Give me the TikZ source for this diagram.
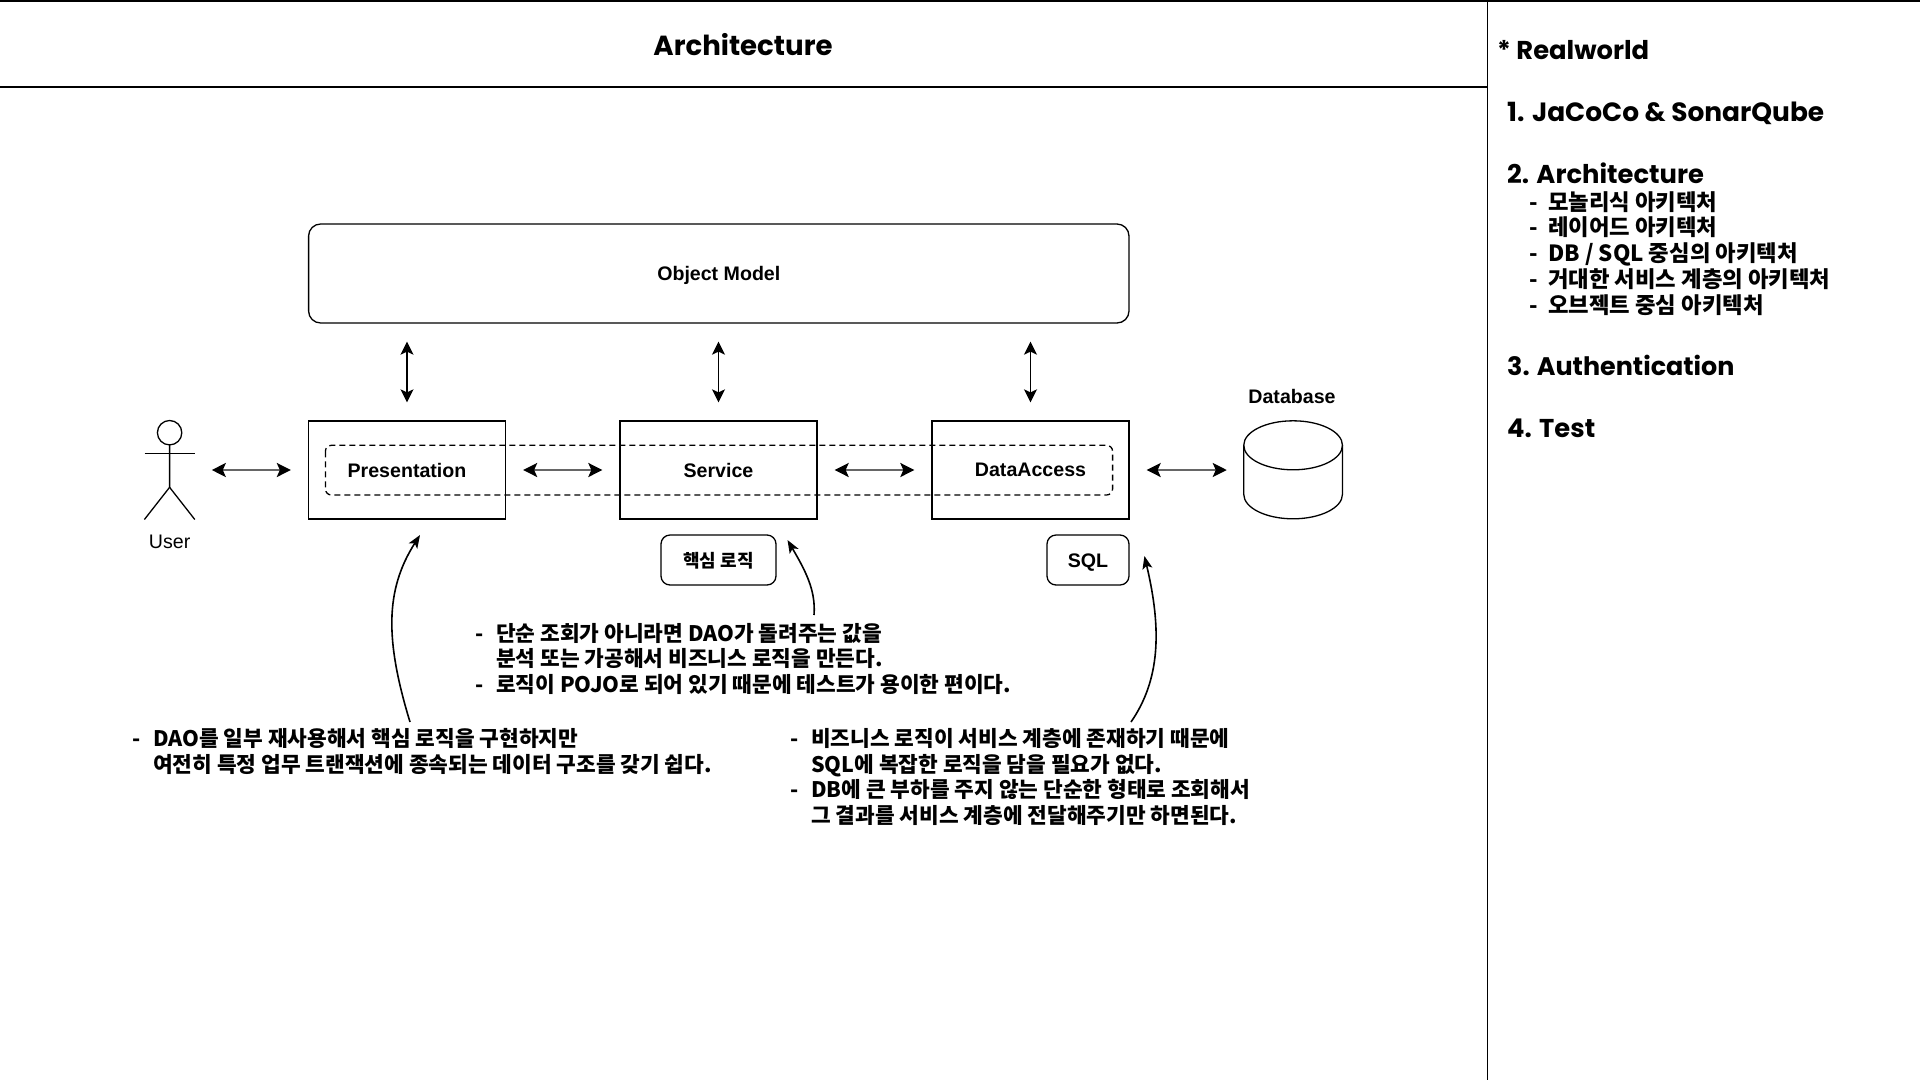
\documentclass[tikz,border=0pt]{standalone}
\usepackage{fontspec}
\usetikzlibrary{arrows.meta}
\setmainfont{Liberation Sans}
\newfontfamily\popfont{Poppins}
\newfontfamily\krfont{Noto Sans CJK KR}
\newcommand{\dashitem}{\makebox[21pt][l]{-}}
\newcommand{\dashgap}{\hspace*{21pt}}
\newcommand{\sideitem}{\makebox[19pt][l]{-}}
\tikzset{
  x=1pt,y=-1pt,
  frame/.style={line width=1.3pt,draw=black},
  box/.style={frame,inner sep=0pt,font=\bfseries\fontsize{19.6}{24}\selectfont},
  rbox/.style={box,rounded corners=9pt},
  label/.style={inner sep=0pt,font=\bfseries\fontsize{19.6}{24}\selectfont},
  head/.style={inner sep=0pt,anchor=base west,font=\popfont\bfseries\fontsize{25.8}{30}\selectfont},
  note/.style={inner sep=0pt,anchor=base west,align=left,font=\krfont\bfseries\fontsize{21.4}{25.4}\selectfont},
  sidenote/.style={note,font=\krfont\bfseries\fontsize{22.3}{25.7}\selectfont},
  varrow/.style={line width=1.6pt,{Stealth[length=13pt,width=13pt,inset=3pt]}-{Stealth[length=13pt,width=13pt,inset=3pt]},shorten >=18pt,shorten <=18pt},
  harrow/.style={line width=2.2pt,draw=black!60,{Stealth[length=14pt,width=14pt,inset=3pt,black]}-{Stealth[length=14pt,width=14pt,inset=3pt,black]},shorten >=17pt,shorten <=17pt},
  curvearrow/.style={line width=1.6pt,-{Stealth[length=13pt,width=10pt,inset=3pt]}},
}
\begin{document}
\begin{tikzpicture}
\useasboundingbox (0,0) rectangle (1920,1080);
\fill[white] (0,0) rectangle (1920,1080);
% frame
\coordinate (ftl) at (0,1);
\coordinate (ftr) at (1920,1);
\coordinate (ltl) at (0,87);
\coordinate (ltr) at (1487.5,87);
\coordinate (vt) at (1487.5,0);
\coordinate (vb) at (1487.5,1080);
\draw[frame] (ftl) -- (ftr);
\draw[frame] (ltl) -- (ltr);
\draw[frame] (vt) -- (vb);
\node[inner sep=0pt,anchor=base,font=\popfont\bfseries\fontsize{27.6}{30}\selectfont] (title) at (743,55) {Architecture};
% sidebar
\node[head] (s0) at (1497,59) {* Realworld};
\node[head,font=\popfont\bfseries\fontsize{26.4}{30}\selectfont] (s1) at (1507,121) {1. JaCoCo \& SonarQube};
\node[head] (s2) at (1507,183) {2. Architecture};
\node[sidenote] (s2list) at (1529,313) {\sideitem 모놀리식 아키텍처\\\sideitem 레이어드 아키텍처\\\sideitem DB / SQL 중심의 아키텍처\\\sideitem 거대한 서비스 계층의 아키텍처\\\sideitem 오브젝트 중심 아키텍처};
\node[head,font=\popfont\bfseries\fontsize{25.4}{30}\selectfont] (s3) at (1507,375) {3. Authentication};
\node[head] (s4) at (1507,437) {4. Test};
% diagram boxes
\node[rbox,rounded corners=12pt,minimum width=820.4pt,minimum height=99pt] (obj) at (718.8,273.5) {\raisebox{-7pt}[0pt][0pt]{Object Model}};
\node[box,minimum width=197pt,minimum height=98pt] (pres) at (407,470) {Presentation};
\node[box,minimum width=197pt,minimum height=98pt] (serv) at (718.5,470) {Service};
\node[box,minimum width=197pt,minimum height=98pt] (data) at (1030.5,470) {DataAccess};
\draw[line width=1.3pt,dashed,dash pattern=on 6pt off 4pt,rounded corners=6pt] (325.4,445.3) rectangle (1112.6,495);
\node[rbox,minimum width=115pt,minimum height=50pt,font=\krfont\bfseries\fontsize{18}{22}\selectfont] (core) at (718.5,560) {\raisebox{-7pt}[0pt][0pt]{핵심 로직}};
\node[rbox,minimum width=82pt,minimum height=50pt] (sql) at (1088,560) {\raisebox{-7pt}[0pt][0pt]{SQL}};
% actor
\node[inner sep=0pt,minimum width=50pt,minimum height=98.6pt] (user) at (169.6,470) {};
\node[label,font=\fontsize{19.6}{24}\selectfont] (ulabel) at (169.6,542) {User};
\draw[frame] (user.north)++(0,12.2) circle[radius=12.2];
\draw[frame] (user.north)++(0,24.4) -- (169.6,487.3) -- (user.south west);
\draw[frame] (169.6,487.3) -- (user.south east);
\draw[frame] (144.6,453.3) -- (194.6,453.3);
% database
\node[inner sep=0pt,minimum width=98.7pt,minimum height=98pt] (db) at (1293.3,470) {};
\node[label] (dblabel) at (1292,396) {Database};
\draw[frame] (db.north west)++(0,24.5) arc[start angle=180,end angle=-180,x radius=49.35,y radius=24.5];
\draw[frame] (db.north west)++(0,24.5) -- ++(0,49) arc[start angle=180,end angle=360,x radius=49.35,y radius=-24.5] -- ++(0,-49);
% arrows
\draw[varrow] (pres.north) -- (pres.north |- obj.south);
\draw[varrow] (serv.north) -- (serv.north |- obj.south);
\draw[varrow] (data.north) -- (data.north |- obj.south);
\draw[harrow] (user.east) -- (pres.west);
\draw[harrow] (pres.east) -- (serv.west);
\draw[harrow] (serv.east) -- (data.west);
\draw[harrow] (data.east) -- (db.west);
% notes
\node[note] (nleft) at (132,772) {\dashitem DAO를 일부 재사용해서 핵심 로직을 구현하지만\\\dashgap 여전히 특정 업무 트랜잭션에 종속되는 데이터 구조를 갖기 쉽다.};
\node[note] (nmid) at (475,692) {\dashitem 단순 조회가 아니라면 DAO가 돌려주는 값을\\\dashgap 분석 또는 가공해서 비즈니스 로직을 만든다.\\\dashitem 로직이 POJO로 되어 있기 때문에 테스트가 용이한 편이다.};
\node[note] (nright) at (790,823) {\dashitem 비즈니스 로직이 서비스 계층에 존재하기 때문에\\\dashgap SQL에 복잡한 로직을 담을 필요가 없다.\\\dashitem DB에 큰 부하를 주지 않는 단순한 형태로 조회해서\\\dashgap 그 결과를 서비스 계층에 전달해주기만 하면된다.};
% annotation curves
\coordinate (c1s) at (410,722);
\coordinate (c1e) at (420,535);
\coordinate (c2s) at (814,615);
\coordinate (c2e) at (787.5,540);
\coordinate (c3s) at (1131,722);
\coordinate (c3e) at (1144.4,556);
\draw[curvearrow] (c1s) .. controls (385,640) and (385,590) .. (c1e);
\draw[curvearrow] (c2s) .. controls (816,590) and (805,570) .. (c2e);
\draw[curvearrow] (c3s) .. controls (1160,680) and (1162,630) .. (c3e);
\end{tikzpicture}
\end{document}
